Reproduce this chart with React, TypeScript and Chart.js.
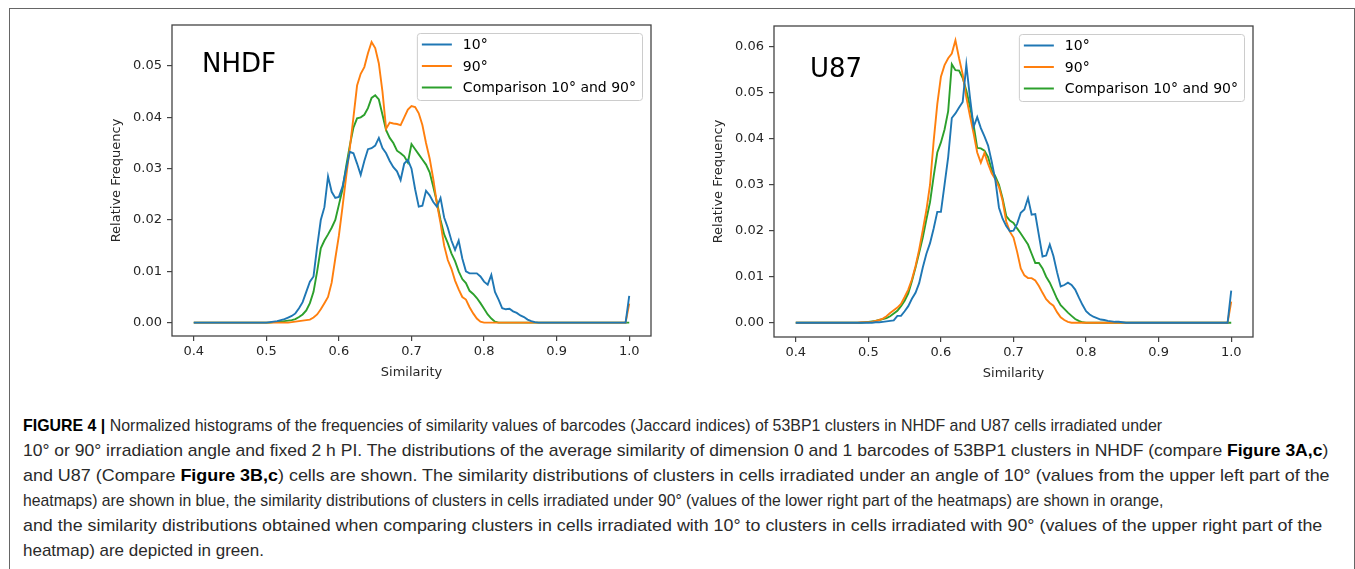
import React, { useEffect, useLayoutEffect, useRef } from "react";
import { Chart, registerables } from "chart.js";

Chart.register(...registerables);

// ---------- data ----------
const similarity = [
  0.4,
  0.48, 0.485, 0.49, 0.495,
  0.5, 0.505, 0.51, 0.515, 0.52, 0.525, 0.53, 0.535, 0.54, 0.545,
  0.55, 0.555, 0.56, 0.565, 0.57, 0.575, 0.58, 0.585, 0.59, 0.595,
  0.6, 0.605, 0.61, 0.615, 0.62, 0.625, 0.63, 0.635, 0.64, 0.645,
  0.65, 0.655, 0.66, 0.665, 0.67, 0.675, 0.68, 0.685, 0.69, 0.695,
  0.7, 0.705, 0.71, 0.715, 0.72, 0.725, 0.73, 0.735, 0.74, 0.745,
  0.75, 0.755, 0.76, 0.765, 0.77, 0.775, 0.78, 0.785, 0.79, 0.795,
  0.8, 0.805, 0.81, 0.815, 0.82, 0.825, 0.83, 0.835, 0.84, 0.845,
  0.85, 0.855, 0.86, 0.865, 0.87, 0.875, 0.88,
  0.995, 1.0,
];

const nhdf10 = [
  0,
  0, 0, 0, 0,
  0, 0.0001, 0.0002, 0.0003, 0.0005, 0.0007, 0.001, 0.0013, 0.0018, 0.0028,
  0.004, 0.006, 0.008, 0.009, 0.0148, 0.02, 0.0225, 0.0285, 0.0255, 0.0243,
  0.0245, 0.0265, 0.03, 0.0333, 0.033, 0.031, 0.0288, 0.0315, 0.0338, 0.034,
  0.0345, 0.036, 0.034, 0.033, 0.0315, 0.0303, 0.0295, 0.0278, 0.031, 0.0317,
  0.03, 0.026, 0.0226, 0.0228, 0.0257, 0.0248, 0.0235, 0.0226, 0.0243, 0.0205,
  0.0185, 0.016, 0.0142, 0.016, 0.0125, 0.01, 0.0096, 0.0096, 0.0096, 0.009,
  0.008, 0.0074, 0.0093, 0.006, 0.0045, 0.0028, 0.0026, 0.0027, 0.0022, 0.0019,
  0.0014, 0.0011, 0.0006, 0.0003, 0.0001, 0, 0,
  0, 0.0052,
];
const nhdf90 = [
  0,
  0, 0, 0, 0,
  0, 0, 0, 0, 0, 0, 0, 0.0001, 0.0002, 0.0003,
  0.0004, 0.0005, 0.0006, 0.001, 0.0016, 0.0026, 0.0038, 0.005, 0.0078, 0.0125,
  0.017, 0.0226, 0.0285, 0.034, 0.04, 0.0462, 0.0485, 0.0498, 0.0525, 0.0547,
  0.0535, 0.0505, 0.045, 0.0378, 0.039, 0.0388, 0.0387, 0.0385, 0.04, 0.0415,
  0.0422, 0.042, 0.0408, 0.0385, 0.035, 0.032, 0.028, 0.0232, 0.0194, 0.015,
  0.0122, 0.0105, 0.0082, 0.0065, 0.005, 0.0045, 0.003, 0.0018, 0.0008, 0.0002,
  0, 0, 0, 0, 0, 0, 0, 0, 0, 0,
  0, 0, 0, 0, 0, 0, 0,
  0, 0.0037,
];
const nhdfCmp = [
  0,
  0, 0, 0, 0,
  0, 0, 0.0001, 0.0001, 0.0002, 0.0003, 0.0004, 0.0005, 0.0007, 0.0011,
  0.0016, 0.0024, 0.0038, 0.006, 0.01, 0.0145, 0.016, 0.0172, 0.0185, 0.02,
  0.023, 0.026, 0.0305, 0.0345, 0.038, 0.0398, 0.04, 0.0405, 0.0418, 0.0438,
  0.0443, 0.0435, 0.0405, 0.0375, 0.036, 0.035, 0.0335, 0.033, 0.0324, 0.0312,
  0.0348, 0.0338, 0.0328, 0.0318, 0.0308, 0.0293, 0.0265, 0.0235, 0.02, 0.0172,
  0.0155, 0.0135, 0.012, 0.01, 0.0085, 0.0077, 0.0062, 0.0056, 0.0048, 0.0038,
  0.0027, 0.0016, 0.0008, 0.0002, 0, 0, 0, 0, 0, 0,
  0, 0, 0, 0, 0, 0, 0,
  0, 0,
];

const u87_10 = [
  0,
  0, 0, 0, 0,
  0, 0, 0.0001, 0.0001, 0.0002, 0.0003, 0.0004, 0.0005, 0.0015, 0.0015,
  0.0025, 0.0036, 0.0052, 0.0065, 0.0086, 0.012, 0.015, 0.0173, 0.0205, 0.0241,
  0.0241, 0.03, 0.036, 0.0445, 0.0455, 0.0468, 0.048, 0.0561, 0.049, 0.0426,
  0.0447, 0.0423, 0.0405, 0.0385, 0.035, 0.031, 0.025, 0.0226, 0.021, 0.0199,
  0.02, 0.0215, 0.0239, 0.0246, 0.0271, 0.0235, 0.0236, 0.019, 0.0144, 0.0146,
  0.017, 0.0145, 0.011, 0.0079, 0.0082, 0.0087, 0.0082, 0.0072, 0.0055, 0.0039,
  0.0025, 0.0018, 0.0013, 0.001, 0.0007, 0.0006, 0.0004, 0.0003, 0.0002, 0.0002,
  0.0001, 0, 0, 0, 0, 0, 0,
  0, 0.007,
];
const u87_90 = [
  0,
  0, 0, 0.0001, 0.0001,
  0.0001, 0.0002, 0.0004, 0.0006, 0.0009, 0.0014, 0.0021, 0.0027, 0.0033, 0.0041,
  0.0056, 0.0072, 0.0094, 0.0123, 0.0159, 0.0201, 0.0245, 0.03, 0.0395, 0.0475,
  0.0535, 0.056, 0.0575, 0.0585, 0.0614, 0.0575, 0.054, 0.049, 0.045, 0.0412,
  0.037, 0.0348, 0.0369, 0.0345, 0.0325, 0.0312, 0.0295, 0.0265, 0.022, 0.0198,
  0.0185, 0.0154, 0.0118, 0.0103, 0.0097, 0.0097, 0.0092, 0.008, 0.0065, 0.0051,
  0.0043, 0.0037, 0.0023, 0.0012, 0.0006, 0.0002, 0, 0, 0, 0,
  0, 0, 0, 0, 0, 0, 0, 0, 0, 0,
  0, 0, 0, 0, 0, 0, 0,
  0, 0.0046,
];
const u87Cmp = [
  0,
  0, 0, 0, 0.0001,
  0.0002, 0.0003, 0.0004, 0.0006, 0.0008, 0.001, 0.0014, 0.002, 0.0026, 0.0036,
  0.0048, 0.0064, 0.009, 0.012, 0.0152, 0.0185, 0.0225, 0.0262, 0.0318, 0.037,
  0.0392, 0.042, 0.046, 0.0562, 0.0549, 0.0548, 0.0532, 0.0505, 0.047, 0.043,
  0.038, 0.0379, 0.0374, 0.036, 0.0332, 0.0318, 0.03, 0.027, 0.0232, 0.0222,
  0.0217, 0.0205, 0.0194, 0.0182, 0.017, 0.015, 0.013, 0.013, 0.0118, 0.01,
  0.0087, 0.007, 0.0052, 0.0038, 0.003, 0.0022, 0.0015, 0.0008, 0.0004, 0.0001,
  0, 0, 0, 0, 0, 0, 0, 0, 0, 0,
  0, 0, 0, 0, 0, 0, 0,
  0, 0,
];

const xTicks = [0.4, 0.5, 0.6, 0.7, 0.8, 0.9, 1.0];
const yTicksNHDF = [0, 0.01, 0.02, 0.03, 0.04, 0.05];
const yTicksU87 = [0, 0.01, 0.02, 0.03, 0.04, 0.05, 0.06];
const seriesLabels = ["10°", "90°", "Comparison 10° and 90°"];
const seriesColors = ["#1f77b4", "#ff7f0e", "#2ca02c"];
const xTitle = "Similarity";
const yTitle = "Relative Frequency";

type Seg = [string, boolean];
const captionLines: Seg[][] = [
  [["FIGURE 4 | ", true], ["Normalized histograms of the frequencies of similarity values of barcodes (Jaccard indices) of 53BP1 clusters in NHDF and U87 cells irradiated under", false]],
  [["10° or 90° irradiation angle and fixed 2 h PI. The distributions of the average similarity of dimension 0 and 1 barcodes of 53BP1 clusters in NHDF (compare ", false], ["Figure 3A,c", true], [")", false]],
  [["and U87 (Compare ", false], ["Figure 3B,c", true], [") cells are shown. The similarity distributions of clusters in cells irradiated under an angle of 10° (values from the upper left part of the", false]],
  [["heatmaps) are shown in blue, the similarity distributions of clusters in cells irradiated under 90° (values of the lower right part of the heatmaps) are shown in orange,", false]],
  [["and the similarity distributions obtained when comparing clusters in cells irradiated with 10° to clusters in cells irradiated with 90° (values of the upper right part of the", false]],
  [["heatmap) are depicted in green.", false]],
];

// ---------- drawing ----------
const FONT = "'DejaVu Sans', sans-serif";

const framePlugin = {
  id: "mplFrame",
  afterDatasetsDraw(chart: any, _args: any, opts: any) {
    const { ctx, chartArea: a } = chart;
    ctx.save();
    // panel name
    ctx.fillStyle = "#000";
    ctx.font = `26px ${FONT}`;
    ctx.textBaseline = "alphabetic";
    ctx.textAlign = "left";
    ctx.fillText(opts.panel, a.left + opts.panelDx, a.top + opts.panelDy);
    // axes frame
    ctx.strokeStyle = "#444";
    ctx.lineWidth = 1.3;
    ctx.strokeRect(a.left, a.top, a.right - a.left, a.bottom - a.top);
    // legend
    ctx.font = `14px ${FONT}`;
    const tw = Math.max(...seriesLabels.map((l) => ctx.measureText(l).width));
    const bw = 5 + 30 + 11 + tw + 6;
    const bh = 67;
    const bx = a.right - 9 - bw;
    const by = a.top + 8;
    ctx.beginPath();
    (ctx as any).roundRect(bx + 0.5, by + 0.5, bw, bh, 3);
    ctx.fillStyle = "rgba(255,255,255,0.85)";
    ctx.fill();
    ctx.strokeStyle = "#cccccc";
    ctx.lineWidth = 1;
    ctx.stroke();
    seriesLabels.forEach((l, i) => {
      const cy = by + 11.5 + i * 21.5;
      ctx.beginPath();
      ctx.moveTo(bx + 5, cy);
      ctx.lineTo(bx + 35, cy);
      ctx.strokeStyle = seriesColors[i];
      ctx.lineWidth = 2;
      ctx.stroke();
      ctx.fillStyle = "#000";
      ctx.textBaseline = "middle";
      ctx.fillText(l, bx + 46, cy + 1);
    });
    ctx.restore();
  },
};

type PanelProps = {
  left: number;
  top: number;
  width: number;
  height: number;
  padRight: number;
  panel: string;
  panelDx: number;
  panelDy: number;
  series: number[][];
  yTicks: number[];
  yMin: number;
  yMax: number;
};

function Panel(p: PanelProps) {
  const ref = useRef<HTMLCanvasElement>(null);
  useEffect(() => {
    const chart = new Chart(ref.current as HTMLCanvasElement, {
      type: "line",
      data: {
        datasets: p.series.map((s, i) => ({
          label: seriesLabels[i],
          data: similarity.map((x, j) => ({ x, y: s[j] })),
          borderColor: seriesColors[i],
          backgroundColor: seriesColors[i],
          borderWidth: 1.9,
          pointRadius: 0,
          tension: 0,
          fill: false,
        })),
      },
      options: {
        animation: false,
        responsive: false,
        devicePixelRatio: 1,
        events: [],
        layout: { padding: { left: 0, top: 15, right: p.padRight, bottom: 0 } },
        plugins: {
          legend: { display: false },
          tooltip: { enabled: false },
          mplFrame: { panel: p.panel, panelDx: p.panelDx, panelDy: p.panelDy },
        } as any,
        scales: {
          x: {
            type: "linear",
            min: 0.37,
            max: 1.03,
            afterBuildTicks: (scale: any) => {
              scale.ticks = xTicks.map((v) => ({ value: v }));
            },
            afterFit: (scale: any) => {
              scale.height = 59;
            },
            ticks: {
              autoSkip: false,
              maxRotation: 0,
              padding: 3,
              color: "#262626",
              font: { family: FONT, size: 13 },
              callback: (v: any) => Number(v).toFixed(1),
            },
            grid: {
              display: true,
              drawOnChartArea: false,
              drawTicks: true,
              tickLength: 5,
              color: "#444",
              lineWidth: 1.2,
            },
            border: { display: false },
            title: {
              display: true,
              text: xTitle,
              color: "#262626",
              font: { family: FONT, size: 13 },
              padding: { top: 0, bottom: 15 },
            },
          },
          y: {
            type: "linear",
            min: p.yMin,
            max: p.yMax,
            afterBuildTicks: (scale: any) => {
              scale.ticks = p.yTicks.map((v) => ({ value: v }));
            },
            afterFit: (scale: any) => {
              scale.width = 77;
            },
            ticks: {
              autoSkip: false,
              padding: 5,
              color: "#262626",
              font: { family: FONT, size: 13 },
              callback: (v: any) => Number(v).toFixed(2),
            },
            grid: {
              display: true,
              drawOnChartArea: false,
              drawTicks: true,
              tickLength: 5,
              color: "#444",
              lineWidth: 1.2,
            },
            border: { display: false },
            title: {
              display: true,
              text: yTitle,
              color: "#262626",
              font: { family: FONT, size: 13 },
              padding: { top: 14, bottom: 0 },
            },
          },
        },
      },
      plugins: [framePlugin as any],
    });
    return () => chart.destroy();
  }, []);
  return (
    <canvas
      ref={ref}
      width={p.width}
      height={p.height}
      style={{ position: "absolute", left: p.left, top: p.top, width: p.width, height: p.height }}
    />
  );
}

const captionWidths = [1139, 1305, 1307, 1140, 1299];

function Caption() {
  const refs = useRef<(HTMLSpanElement | null)[]>([]);
  useLayoutEffect(() => {
    const els = refs.current;
    const scales: number[] = [];
    captionWidths.forEach((w, i) => {
      const el = els[i];
      if (el) scales.push(w / el.offsetWidth);
    });
    const avg = scales.reduce((s, v) => s + v, 0) / Math.max(1, scales.length);
    els.forEach((el, i) => {
      if (!el) return;
      const k = i < scales.length ? scales[i] : avg;
      el.style.transform = `scaleX(${k})`;
    });
  }, []);
  return (
    <div
      style={{
        position: "absolute",
        left: 23,
        top: 413,
        fontFamily: "'Liberation Sans', Arial, sans-serif",
        fontSize: 17,
        lineHeight: "25px",
        color: "#2a2a2a",
      }}
    >
      {captionLines.map((segs, i) => (
        <div key={i} style={{ height: 25, whiteSpace: "nowrap" }}>
          <span
            ref={(el) => {
              refs.current[i] = el;
            }}
            style={{ display: "inline-block", transformOrigin: "0 0" }}
          >
            {segs.map(([t, b], j) =>
              b ? (
                <b key={j} style={{ color: "#000" }}>
                  {t}
                </b>
              ) : (
                <span key={j}>{t}</span>
              )
            )}
          </span>
        </div>
      ))}
    </div>
  );
}

export default function App() {
  return (
    <div
      style={{
        position: "absolute",
        left: 0,
        top: 0,
        width: 1355,
        height: 569,
        overflow: "hidden",
        background: "#fff",
      }}
    >
      <div
        style={{
          position: "absolute",
          left: 9,
          top: 8,
          width: 1346,
          height: 620,
          boxSizing: "border-box",
          border: "1px solid #666",
        }}
      />
      <Panel
        left={95}
        top={10}
        width={580}
        height={385}
        padRight={24}
        panel="NHDF"
        panelDx={30}
        panelDy={47}
        series={[nhdf10, nhdf90, nhdfCmp]}
        yTicks={yTicksNHDF}
        yMin={-0.0026}
        yMax={0.058}
      />
      <Panel
        left={697}
        top={11}
        width={580}
        height={385}
        padRight={24}
        panel="U87"
        panelDx={36}
        panelDy={51}
        series={[u87_10, u87_90, u87Cmp]}
        yTicks={yTicksU87}
        yMin={-0.0031}
        yMax={0.0645}
      />
      <Caption />
    </div>
  );
}
